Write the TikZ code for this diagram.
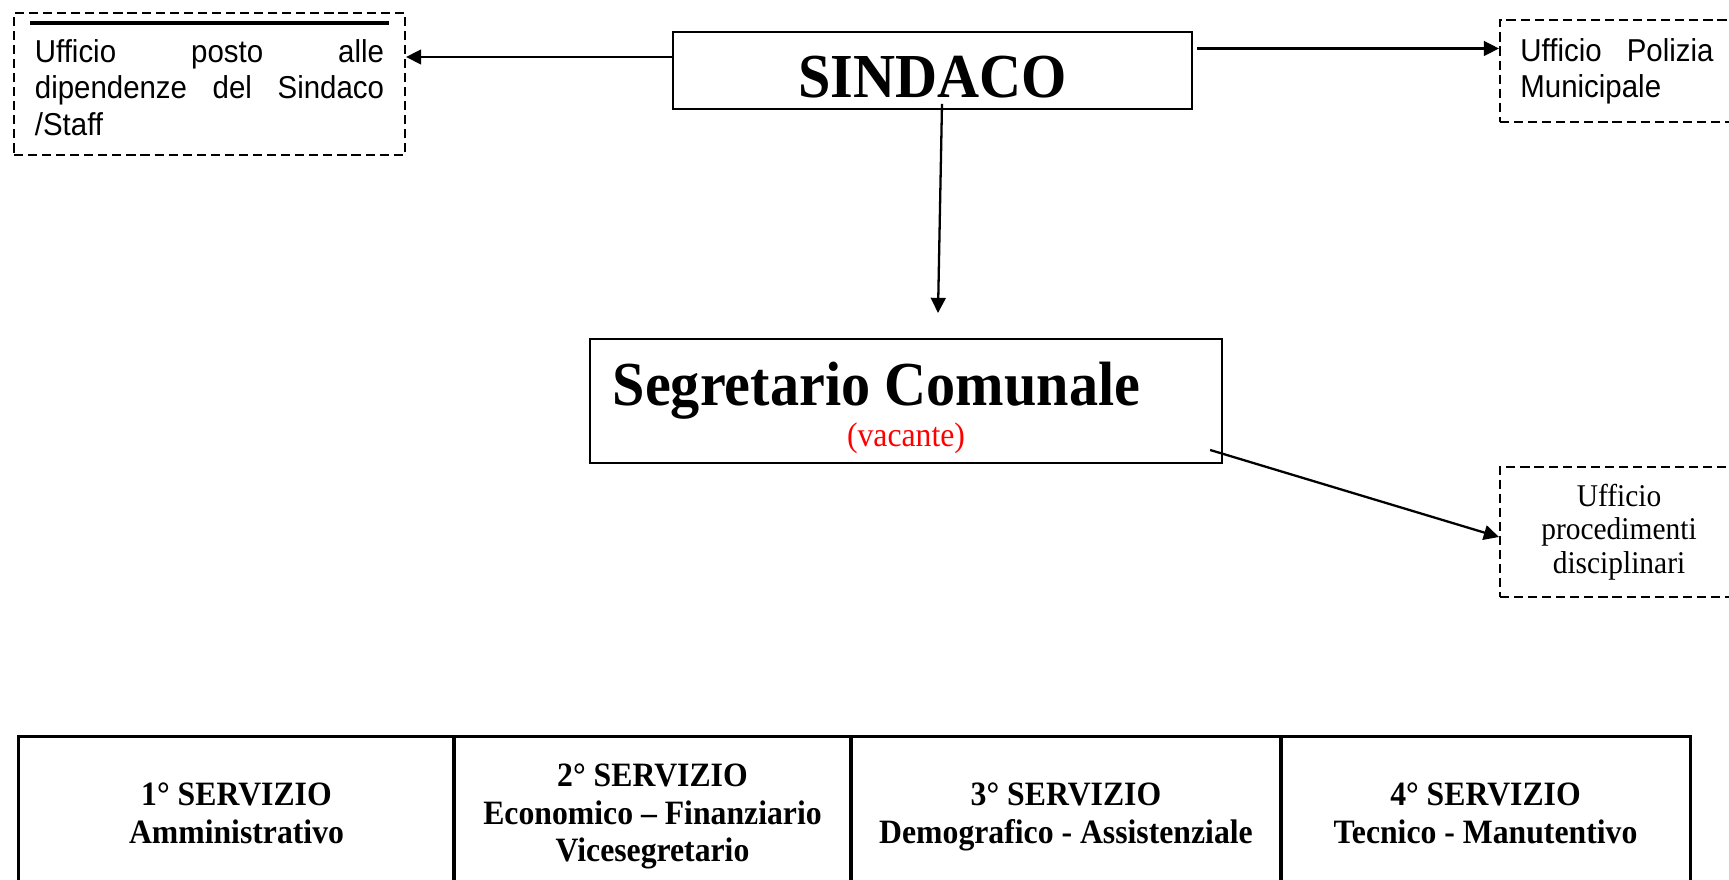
\documentclass[tikz,border=0pt]{standalone}
\usepackage{fontspec}
\setmainfont{Liberation Serif}[FakeStretch=0.93]
\newfontfamily\arialf{Liberation Sans}[FakeStretch=0.93]
\usetikzlibrary{arrows.meta,calc}
\begin{document}
\begin{tikzpicture}[x=0.01cm,y=-0.01cm,
  box/.style={draw,line width=0.55pt,rectangle,inner sep=0pt},
  dbox/.style={draw,line width=0.55pt,dash pattern=on 2.6pt off 1.4pt,rectangle,inner sep=0pt},
  cell/.style={draw,line width=0.85pt,rectangle,inner sep=0pt,minimum height=1.52cm,align=center,text depth=0pt,font=\fontsize{9.7}{10.7}\selectfont\bfseries},
  arr/.style={-{Triangle[length=4.3pt,width=4.2pt]},line width=0.65pt},
  big/.style={inner sep=0pt,font=\fontsize{17.8}{20}\selectfont\bfseries},
  sans/.style={font=\arialf\fontsize{9}{10.3}\selectfont},
]
\useasboundingbox (0,0) rectangle (1729,880);
\clip (0,0) rectangle (1729,880);

% boxes
\node[dbox,sans,minimum width=3.91cm,minimum height=1.42cm,text width=3.49cm,align=justify] (staff) at (209.5,84) {\rule{0pt}{8.6pt}Ufficio posto alle\linebreak dipendenze del Sindaco\linebreak /Staff};
\draw[line width=1.1pt] ($(staff.north west)+(17,11)$) -- ($(staff.north east)+(-17,11)$);

\node[box,minimum width=5.19cm,minimum height=0.77cm] (sindaco) at (932.5,70.5) {};
\node[big,anchor=base] (sindacot) at (932.5,97.5) {SINDACO};

\node[dbox,sans,minimum width=2.38cm,minimum height=1.02cm,text width=1.89cm,align=justify] (polizia) at (1619,71) {\hspace*{-0.04cm}Ufficio Polizia\linebreak \hspace*{-0.04cm}Municipale};

\node[box,minimum width=6.32cm,minimum height=1.24cm] (segr) at (906,401) {};
\node[big,anchor=base west] (segrt) at (612,406) {Segretario Comunale};
\node[anchor=base,inner sep=0pt,font=\fontsize{9.7}{11}\selectfont,text=red] (vac) at (906,447) {(vacante)};

\node[dbox,minimum width=2.38cm,minimum height=1.30cm,align=center,font=\fontsize{9}{9.6}\selectfont] (proc) at (1619,532) {Ufficio\\procedimenti\\disciplinari};

% table
\node[cell,minimum width=4.35cm] (c1) at (236.5,813) {1° SERVIZIO\\Amministrativo};
\node[cell,minimum width=3.97cm] (c2) at (652.5,813) {2° SERVIZIO\\Economico – Finanziario\\Vicesegretario};
\node[cell,minimum width=4.30cm] (c3) at (1066,813) {3° SERVIZIO\\Demografico - Assistenziale};
\node[cell,minimum width=4.09cm] (c4) at (1485.5,813) {4° SERVIZIO\\Tecnico - Manutentivo};

% connectors
\draw[arr] ($(sindaco.west)+(0,-13.5)$) coordinate (la) -- (staff.east |- la);
\draw[arr] ($(sindaco.east)+(4,-22)$) coordinate (ra) -- (polizia.west |- ra);
\draw[arr] ($(sindaco.south)+(9.5,-6)$) -- ($(segr.north)+(32,-25)$);
\draw[arr] ($(segr.south east)+(-13,-14)$) -- ($(proc.west)+(0,5)$);
\end{tikzpicture}
\end{document}
